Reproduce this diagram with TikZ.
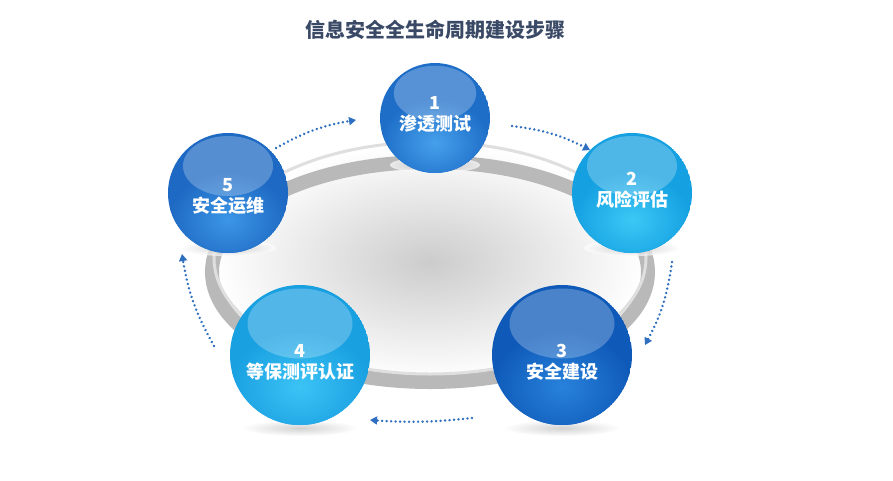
\documentclass[tikz,border=0pt]{standalone}
\usepackage{fontspec}
\setmainfont{Noto Sans CJK SC}
\usetikzlibrary{arrows.meta,shadings}
\definecolor{ttl}{HTML}{3A4A66}
\definecolor{arr}{HTML}{2F6FC0}
\definecolor{b1}{RGB}{30,110,200}\definecolor{l1}{RGB}{70,160,235}
\definecolor{b2}{RGB}{20,160,225}\definecolor{l2}{RGB}{60,200,245}
\definecolor{b3}{RGB}{15,90,185}\definecolor{l3}{RGB}{40,130,220}
\definecolor{b4}{RGB}{25,160,225}\definecolor{l4}{RGB}{60,195,245}
\definecolor{b5}{RGB}{30,105,195}\definecolor{l5}{RGB}{60,150,230}
\tikzset{
 ballA/.style={circle,minimum size=#1,inner sep=0pt,text=white,font=\bfseries\fontsize{18}{21}\selectfont,align=center},
 darr/.style={arr,line width=2.6pt,line cap=round,dash pattern=on 0.1pt off 4.4pt,-{Triangle[length=7pt,width=8pt]}},
}
\newcommand\myball[5]{% x y r base light
 \begin{scope}
 \clip (#1,#2) circle (#3);
 \fill[#4] (#1,#2) circle (#3);
 \shade[inner color=#5,outer color=#4] (#1,#2+0.45*#3) ellipse [x radius=#3,y radius=0.8*#3];
 \fill[white,opacity=0.25] (#1,#2-0.45*#3) ellipse [x radius=0.75*#3,y radius=0.5*#3];
 \end{scope}}
\begin{document}
\begin{tikzpicture}[x=1pt,y=-1pt]
\useasboundingbox (0,0) rectangle (893,480);
\fill[white] (0,0) rectangle (893,480);
\node[text=ttl,font=\bfseries\fontsize{20}{24}\selectfont] (title) at (435,30) {信息安全全生命周期建设步骤};
% ring
\shade[inner color=gray!40,outer color=white] (430,262) ellipse [x radius=215,y radius=118];
\draw[gray!55,line width=14pt] (430,272) ellipse [x radius=218,y radius=110];
\draw[gray!25,line width=3pt] (430,258) ellipse [x radius=216,y radius=116];
% shadows
\foreach \x/\y/\r in {435/165/45,632/248/48,562/428/58,300/428/58,228/248/48}
  \shade[inner color=gray!50,outer color=white,opacity=0.7] (\x,\y) ellipse [x radius=\r,y radius=8];
\myball{435}{118}{55}{b1}{l1}
\node[ballA=100pt] (n1) at (435,114) {1\\渗透测试};
\myball{632}{193}{60}{b2}{l2}
\node[ballA=110pt] (n2) at (632,190) {2\\风险评估};
\myball{562}{355}{70}{b3}{l3}
\node[ballA=130pt] (n3) at (562,362) {3\\安全建设};
\myball{300}{355}{70}{b4}{l4}
\node[ballA=130pt] (n4) at (300,362) {4\\等保测评认证};
\myball{228}{193}{60}{b5}{l5}
\node[ballA=110pt] (n5) at (228,196) {5\\安全运维};
% arrows
\coordinate (a1s) at (276,148); \coordinate (a1e) at (356,120);
\coordinate (a2s) at (512,126); \coordinate (a2e) at (590,150);
\coordinate (a3s) at (672,262); \coordinate (a3e) at (645,345);
\coordinate (a4s) at (472,418); \coordinate (a4e) at (370,420);
\coordinate (a5s) at (214,346); \coordinate (a5e) at (182,254);
\draw[darr] (a1s) to[bend left=10] (a1e);
\draw[darr] (a2s) to[bend left=10] (a2e);
\draw[darr] (a3s) to[bend left=10] (a3e);
\draw[darr] (a4s) to[bend left=5] (a4e);
\draw[darr] (a5s) to[bend left=10] (a5e);
\end{tikzpicture}
\end{document}
